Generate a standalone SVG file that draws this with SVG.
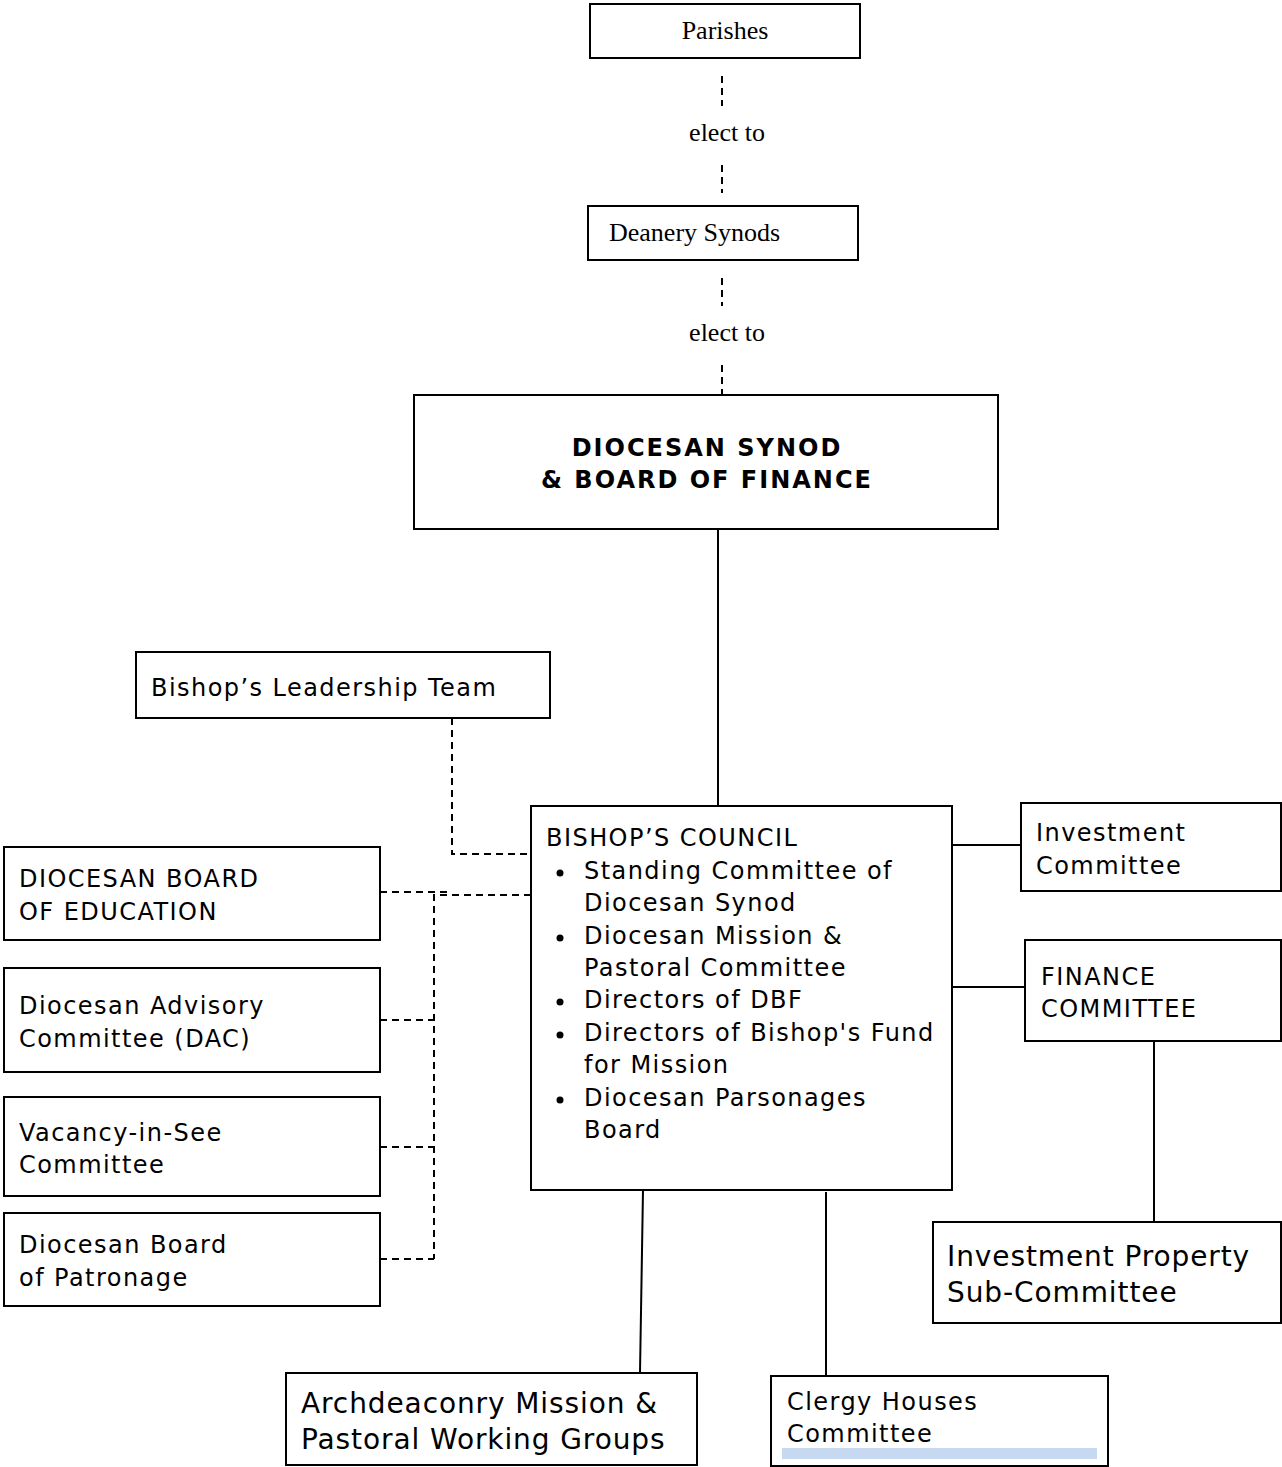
<svg xmlns="http://www.w3.org/2000/svg" width="1282" height="1467" viewBox="0 0 1282 1467">
<style>
.box{fill:#fff;stroke:#000;stroke-width:2}
.s{font-family:"DejaVu Sans","Verdana",sans-serif;font-size:24px;fill:#000;letter-spacing:1.45px}
.l{font-size:28px;letter-spacing:0.9px}
.b{font-weight:bold;letter-spacing:2px}
.t{font-family:"Liberation Serif","Times New Roman",serif;font-size:26px;fill:#000}
.ln{stroke:#000;stroke-width:2;fill:none}
.d{stroke:#000;stroke-width:2;fill:none;stroke-dasharray:7 5}
</style>
<rect width="1282" height="1467" fill="#fff"/>
<g id="connectors">
<line class="d" x1="722" y1="76" x2="722" y2="106"/>
<line class="d" x1="722" y1="165" x2="722" y2="193"/>
<line class="d" x1="722" y1="278" x2="722" y2="306"/>
<line class="d" x1="722" y1="365" x2="722" y2="394"/>
<text class="t" x="727" y="141" text-anchor="middle">elect to</text>
<text class="t" x="727" y="341" text-anchor="middle">elect to</text>
<line class="ln" x1="718" y1="529" x2="718" y2="806"/>
<polyline class="d" points="452,718 452,854 533,854"/>
<line class="d" x1="380" y1="892" x2="452" y2="892"/>
<polyline class="d" points="531,895 434,895 434,1259"/>
<line class="d" x1="380" y1="1020" x2="434" y2="1020"/>
<line class="d" x1="380" y1="1147" x2="434" y2="1147"/>
<line class="d" x1="380" y1="1259" x2="434" y2="1259"/>
<line class="ln" x1="953" y1="845" x2="1021" y2="845"/>
<line class="ln" x1="953" y1="987" x2="1025" y2="987"/>
<line class="ln" x1="1154" y1="1041" x2="1154" y2="1222"/>
<line class="ln" x1="643" y1="1190" x2="640" y2="1373"/>
<line class="ln" x1="826" y1="1192" x2="826" y2="1376"/>
</g>
<g id="parishes">
<rect class="box" x="590" y="4" width="270" height="54"/>
<text class="t" x="725" y="39" text-anchor="middle">Parishes</text>
</g>
<g id="deanery-synods">
<rect class="box" x="588" y="206" width="270" height="54"/>
<text class="t" x="609" y="241">Deanery Synods</text>
</g>
<g id="diocesan-synod">
<rect class="box" x="414" y="395" width="584" height="134"/>
<text class="s b" x="707" y="456" text-anchor="middle">DIOCESAN SYNOD</text>
<text class="s b" x="707" y="488" text-anchor="middle">&amp; BOARD OF FINANCE</text>
</g>
<g id="leadership-team">
<rect class="box" x="136" y="652" width="414" height="66"/>
<text class="s" x="151" y="696">Bishop’s Leadership Team</text>
</g>
<g id="bishops-council">
<rect class="box" x="531" y="806" width="421" height="384"/>
<text class="s" x="546" y="846">BISHOP’S COUNCIL</text>
<g fill="#000">
<circle cx="560" cy="873" r="3.5"/>
<circle cx="560" cy="938" r="3.5"/>
<circle cx="560" cy="1002" r="3.5"/>
<circle cx="560" cy="1035" r="3.5"/>
<circle cx="560" cy="1100" r="3.5"/>
</g>
<text class="s" x="584" y="879">Standing Committee of</text>
<text class="s" x="584" y="911">Diocesan Synod</text>
<text class="s" x="584" y="944">Diocesan Mission &amp;</text>
<text class="s" x="584" y="976">Pastoral Committee</text>
<text class="s" x="584" y="1008">Directors of DBF</text>
<text class="s" x="584" y="1041">Directors of Bishop's Fund</text>
<text class="s" x="584" y="1073">for Mission</text>
<text class="s" x="584" y="1106">Diocesan Parsonages</text>
<text class="s" x="584" y="1138">Board</text>
</g>
<g id="investment-committee">
<rect class="box" x="1021" y="803" width="260" height="88"/>
<text class="s" x="1036" y="841">Investment</text>
<text class="s" x="1036" y="874">Committee</text>
</g>
<g id="finance-committee">
<rect class="box" x="1025" y="940" width="256" height="101"/>
<text class="s" x="1041" y="985">FINANCE</text>
<text class="s" x="1041" y="1017">COMMITTEE</text>
</g>
<g id="investment-property">
<rect class="box" x="933" y="1222" width="348" height="101"/>
<text class="s l" x="947" y="1266">Investment Property</text>
<text class="s l" x="947" y="1302">Sub-Committee</text>
</g>
<g id="board-of-education">
<rect class="box" x="4" y="847" width="376" height="93"/>
<text class="s" x="19" y="887">DIOCESAN BOARD</text>
<text class="s" x="19" y="920">OF EDUCATION</text>
</g>
<g id="dac">
<rect class="box" x="4" y="968" width="376" height="104"/>
<text class="s" x="19" y="1014">Diocesan Advisory</text>
<text class="s" x="19" y="1047">Committee (DAC)</text>
</g>
<g id="vacancy-in-see">
<rect class="box" x="4" y="1097" width="376" height="99"/>
<text class="s" x="19" y="1141">Vacancy-in-See</text>
<text class="s" x="19" y="1173">Committee</text>
</g>
<g id="patronage">
<rect class="box" x="4" y="1213" width="376" height="93"/>
<text class="s" x="19" y="1253">Diocesan Board</text>
<text class="s" x="19" y="1286">of Patronage</text>
</g>
<g id="archdeaconry">
<rect class="box" x="286" y="1373" width="411" height="92"/>
<text class="s l" x="301" y="1413">Archdeaconry Mission &amp;</text>
<text class="s l" x="301" y="1449">Pastoral Working Groups</text>
</g>
<g id="clergy-houses">
<rect class="box" x="771" y="1376" width="337" height="90"/>
<text class="s" x="787" y="1410">Clergy Houses</text>
<text class="s" x="787" y="1442">Committee</text>
<rect x="782" y="1448" width="315" height="11" fill="#c6d9f1"/>
</g>
</svg>
